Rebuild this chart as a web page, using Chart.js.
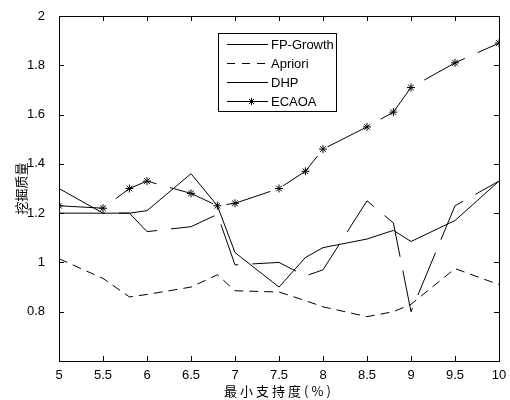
<!DOCTYPE html>
<html>
<head>
<meta charset="utf-8">
<script src="https://cdn.jsdelivr.net/npm/chart.js@4"></script>
<style>
  html, body { margin: 0; padding: 0; background: #fff; }
  #wrap { width: 510px; height: 400px; }
</style>
</head>
<body>
<div id="wrap"><canvas id="chart"></canvas></div>
<script>
// support values (%) on x
const supports = [5, 5.5, 5.8, 6, 6.5, 6.8, 7, 7.5, 7.8, 8, 8.5, 8.8, 9, 9.5, 10];
const fpGrowth = [1.30, 1.20, 1.20, 1.21, 1.36, 1.23, 1.04, 0.90, 1.02, 1.06, 1.095, 1.13, 1.085, 1.17, 1.33];
const apriori  = [1.015, 0.935, 0.86, 0.87, 0.90, 0.95, 0.885, 0.88, 0.845, 0.82, 0.78, 0.80, 0.83, 0.975, 0.91];
const dhp      = [1.20, 1.20, 1.20, 1.125, 1.145, 1.195, 0.99, 1.00, 0.945, 0.97, 1.25, 1.16, 0.80, 1.23, 1.33];
const ecaoa    = [1.23, 1.22, 1.30, 1.33, 1.28, 1.23, 1.24, 1.30, 1.37, 1.46, 1.55, 1.61, 1.71, 1.81, 1.89];

const xTicks = [5, 5.5, 6, 6.5, 7, 7.5, 8, 8.5, 9, 9.5, 10];
const yTicks = [0.6, 0.8, 1, 1.2, 1.4, 1.6, 1.8, 2];

const seriesNames = ['FP-Growth', 'Apriori', 'DHP', 'ECAOA'];

const pts = arr => arr.map((v, i) => ({ x: supports[i], y: v }));

// box, inner ticks, titles and the legend, MATLAB style
const matlabFrame = {
  id: 'matlabFrame',
  afterDraw(chart) {
    const { ctx, chartArea: a, scales } = chart;
    ctx.save();
    ctx.strokeStyle = '#000';
    ctx.lineWidth = 1;
    ctx.strokeRect(Math.round(a.left) + 0.5, Math.round(a.top) + 0.5,
      Math.round(a.right - a.left), Math.round(a.bottom - a.top));
    ctx.beginPath();
    xTicks.forEach(t => {
      const px = Math.round(scales.x.getPixelForValue(t)) + 0.5;
      ctx.moveTo(px, a.bottom); ctx.lineTo(px, a.bottom - 5);
      ctx.moveTo(px, a.top); ctx.lineTo(px, a.top + 5);
    });
    yTicks.forEach(t => {
      const py = Math.round(scales.y.getPixelForValue(t)) + 0.5;
      ctx.moveTo(a.left, py); ctx.lineTo(a.left + 5, py);
      ctx.moveTo(a.right, py); ctx.lineTo(a.right - 5, py);
    });
    ctx.stroke();

    // axis titles
    ctx.fillStyle = '#000';
    ctx.font = '13px "Noto Sans CJK SC"';
    ctx.textAlign = 'center';
    ctx.textBaseline = 'middle';
    ctx.letterSpacing = '3px';
    ctx.fillText('最小支持度(%)', (a.left + a.right) / 2, 391);
    ctx.letterSpacing = '0px';
    ctx.save();
    ctx.translate(21, (a.top + a.bottom) / 2);
    ctx.rotate(-Math.PI / 2);
    ctx.fillText('挖掘质量', 0, 0);
    ctx.restore();

    // legend
    const bx = 218.5, by = 33.5, bw = 118, bh = 78;
    ctx.fillStyle = '#fff';
    ctx.fillRect(bx, by, bw, bh);
    ctx.strokeRect(bx, by, bw, bh);
    const rows = [44, 63, 82, 101];
    ctx.font = '13px "Liberation Sans", Arial, sans-serif';
    ctx.textAlign = 'left';
    seriesNames.forEach((name, i) => {
      const y = rows[i] + 0.5;
      ctx.beginPath();
      ctx.setLineDash(i === 1 ? [8, 7] : []);
      ctx.moveTo(227, y); ctx.lineTo(268, y);
      ctx.stroke();
      ctx.setLineDash([]);
      if (i === 3) {
        ctx.beginPath();
        const cx = 251.5, r = 3.5;
        ctx.moveTo(cx - r, y); ctx.lineTo(cx + r, y);
        ctx.moveTo(cx, y - r); ctx.lineTo(cx, y + r);
        ctx.moveTo(cx - r * 0.7, y - r * 0.7); ctx.lineTo(cx + r * 0.7, y + r * 0.7);
        ctx.moveTo(cx - r * 0.7, y + r * 0.7); ctx.lineTo(cx + r * 0.7, y - r * 0.7);
        ctx.stroke();
      }
      ctx.fillStyle = '#000';
      ctx.fillText(name, 271, rows[i] + 1);
    });
    ctx.restore();
  }
};

const base = {
  borderColor: '#000',
  borderWidth: 1,
  pointRadius: 0,
  tension: 0,
  fill: false
};

new Chart(document.getElementById('chart'), {
  type: 'line',
  data: {
    datasets: [
      { ...base, label: seriesNames[0], data: pts(fpGrowth) },
      { ...base, label: seriesNames[1], data: pts(apriori), borderDash: [9, 6] },
      { ...base, label: seriesNames[2], data: pts(dhp), borderDash: [46, 14] },
      { ...base, label: seriesNames[3], data: pts(ecaoa), borderDash: [46, 14],
        pointStyle: 'star', pointRadius: 4, pointBorderColor: '#000',
        pointBorderWidth: 1, pointBackgroundColor: '#000' }
    ]
  },
  options: {
    responsive: true,
    maintainAspectRatio: false,
    animation: false,
    layout: { padding: { top: 16, right: 11, left: 0, bottom: 0 } },
    plugins: { legend: { display: false }, tooltip: { enabled: false } },
    scales: {
      x: {
        type: 'linear',
        min: 5, max: 10,
        grid: { display: false },
        border: { display: false },
        afterBuildTicks: s => { s.ticks = xTicks.map(v => ({ value: v })); },
        afterFit: s => { s.height = 39; },
        ticks: {
          color: '#000',
          padding: -1,
          maxRotation: 0,
          font: { family: '"Liberation Sans", Arial, sans-serif', size: 13 },
          callback: v => String(v)
        }
      },
      y: {
        min: 0.6, max: 2,
        grid: { display: false },
        border: { display: false },
        afterBuildTicks: s => { s.ticks = yTicks.map(v => ({ value: v })); },
        afterFit: s => { s.width = 59; },
        ticks: {
          color: '#000',
          padding: 6,
          font: { family: '"Liberation Sans", Arial, sans-serif', size: 13 },
          callback: v => (Math.abs(v - 0.6) < 1e-9 ? '' : String(+v.toFixed(1)))
        }
      }
    }
  },
  plugins: [matlabFrame]
});
</script>
</body>
</html>
